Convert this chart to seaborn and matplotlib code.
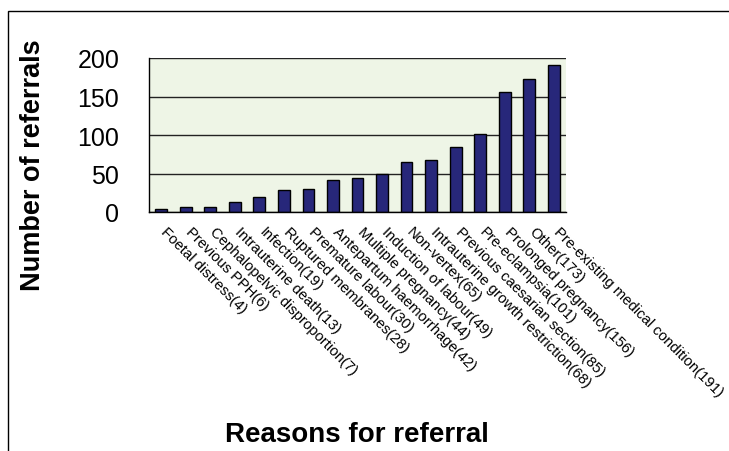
import matplotlib
matplotlib.use("Agg")
import matplotlib.pyplot as plt
import matplotlib.transforms as mtransforms
import seaborn as sns
import pandas as pd
import numpy as np
from matplotlib.patches import Rectangle

reasons = ["Foetal distress(4)", "Previous PPH(6)", "Cephalopelvic disproportion(7)",
           "Intrauterine death(13)", "Infection(19)", "Ruptured membranes(28)",
           "Premature labour(30)", "Antepartum haemorrhage(42)", "Multiple pregnancy(44)",
           "Induction of labour(49)", "Non-vertex(65)", "Intrauterine growth restriction(68)",
           "Previous caesarian section(85)", "Pre-eclampsia(101)", "Prolonged pregnancy(156)",
           "Other(173)", "Pre-existing medical condition(191)"]
counts = [4, 6, 7, 13, 19, 28, 30, 42, 44, 49, 65, 68, 85, 101, 156, 173, 191]
yticks = [0, 50, 100, 150, 200]

sns.set_theme(style="white")
plt.rcParams['font.family'] = ['Liberation Sans', 'DejaVu Sans']

W, H = 729, 452
fig = plt.figure(figsize=(W / 100, H / 100), dpi=100)
ax = fig.add_axes([149 / W, 1 - 213 / H, (566 - 149) / W, (213 - 59) / H])

df = pd.DataFrame({"reason": reasons, "count": counts})
sns.barplot(data=df, x="reason", y="count", ax=ax, color="#27277A",
            width=0.48, edgecolor="black", linewidth=1.0, saturation=1)

ax.set_facecolor("#EEF5E6")
ax.set_ylim(0, 200)
ax.set_xlim(-0.5, len(reasons) - 0.5)
ax.set_yticks(yticks)
ax.set_yticklabels([str(v) for v in yticks], fontsize=18, color="black")
ax.yaxis.grid(True, color="#222222", linewidth=1.0)
ax.set_axisbelow(True)
for s in ["top", "right"]:
    ax.spines[s].set_visible(False)
ax.spines["left"].set_color("black")
ax.spines["bottom"].set_color("black")
ax.spines["left"].set_linewidth(1.0)
ax.spines["bottom"].set_linewidth(1.0)
ax.tick_params(axis="y", direction="out", length=9, width=1, color="black", pad=12.5)

ax.set_xticks(range(len(reasons)))
ax.set_xticklabels(reasons, rotation=-45, ha="left", va="top",
                   rotation_mode="anchor", fontsize=10.7, color="black")
ax.tick_params(axis="x", length=0, pad=9)
offset = mtransforms.ScaledTranslation(7 / 100, 0, fig.dpi_scale_trans)
for lbl in ax.get_xticklabels():
    lbl.set_transform(lbl.get_transform() + offset)
ax.set_xticks(np.arange(-0.5, len(reasons)), minor=True)
ax.tick_params(axis="x", which="minor", direction="out", length=6, width=1, color="black")
ax.set_xlabel("")
ax.set_ylabel("")

fig.text(357 / W, 1 - 435 / H, "Reasons for referral", ha="center", va="center",
         fontsize=20, fontweight="bold", color="black")
fig.text(33 / W, 1 - 165 / H, "Number of referrals", ha="center", va="center",
         rotation=90, fontsize=19.5, fontweight="bold", color="black")

fig.patches.append(Rectangle((8 / W, -0.1), 1.5, 1.1 - 12 / H,
                             transform=fig.transFigure, fill=False,
                             edgecolor="black", linewidth=1.0, clip_on=False))

fig.savefig("out.png", dpi=100)
